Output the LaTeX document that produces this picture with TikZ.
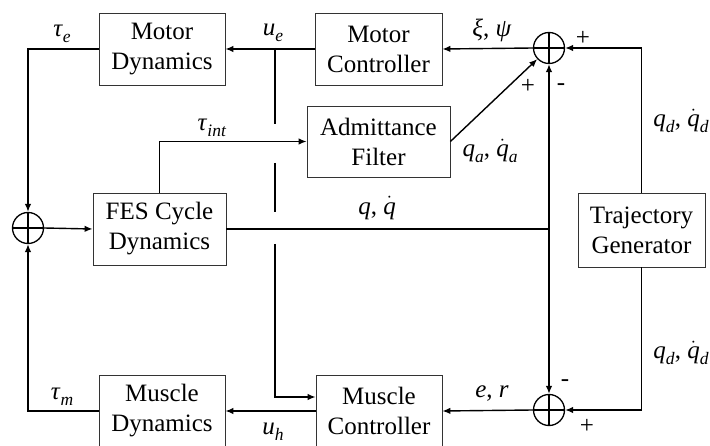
\documentclass[tikz,border=0pt]{standalone}
\usepackage{fontspec}
\setmainfont{Liberation Serif}
\usetikzlibrary{arrows.meta}
\newcommand{\mysym}[2]{\textit{#1}\raisebox{-0.24em}{\fontsize{17.5}{17.5}\selectfont\textit{#2}}}
\newcommand{\mydot}[1]{$\dot{\hbox{\itshape #1}}$}
\begin{document}
\begin{tikzpicture}[x=1pt,y=-1pt,
 blk/.style={draw=black!80,line width=0.8pt,minimum width=126pt,minimum height=72pt,align=center,inner sep=0pt,font=\fontsize{25}{30}\selectfont},
 sumnode/.style={circle,draw,line width=1.3pt,minimum size=31pt,inner sep=0pt,
   path picture={\draw[line width=1.3pt] (path picture bounding box.north)--(path picture bounding box.south) (path picture bounding box.west)--(path picture bounding box.east);}},
 wire/.style={line width=1.4pt},
 arr/.style={wire,-{Latex[length=8pt,width=6.5pt]}},
 lbl/.style={font=\fontsize{25}{30}\selectfont,inner sep=0pt}]
\useasboundingbox (0,0) rectangle (710,446);
% blocks
\node[blk] (MD) at (162,49) {Motor\\Dynamics};
\node[blk,minimum width=127pt] (MC) at (378.5,49) {Motor\\Controller};
\node[blk,minimum width=143pt,minimum height=71pt] (AF) at (378.5,141.5) {Admittance\\Filter};
\node[blk,minimum width=133pt] (FES) at (159.5,229) {FES Cycle\\Dynamics};
\node[blk] (MuD) at (162,411) {Muscle\\Dynamics};
\node[blk] (MuC) at (379,411) {Muscle\\Controller};
\node[blk,minimum width=127pt,minimum height=74pt] (TG) at (641.5,230) {Trajectory\\Generator};
% summing junctions
\node[sumnode] (S1) at (549,48) {};
\node[sumnode] (S2) at (28,228) {};
\node[sumnode] (S3) at (549,410) {};
% connectors
\draw[arr] (S1.west) -- (MC.east);
\draw[arr] (MC.west) -- (MD.east);
\draw[arr] (MD.west) -| (S2.north);
\draw[arr] (MuD.west) -| (S2.south);
\draw[arr] (S2.east) -- (FES.west);
\draw[arr] (FES.north) |- (AF.west);
\draw[arr] (AF.east) -- (S1);
\draw[arr] (TG.north) |- (S1.east);
\draw[arr] (TG.south) |- (S3.east);
\draw[arr] (S3.west) -- (MuC.east);
\draw[arr] (MuC.west) -- (MuD.east);
\coordinate (qj) at (S1 |- FES.east);
\draw[wire] (FES.east) -- (qj);
\draw[arr] (qj) -- (S1.south);
\draw[arr] (qj) -- (S3.north);
% u_e branch with crossing gaps
\coordinate (ub) at (275,48);
\coordinate (u1) at (275,124);
\coordinate (u2) at (275,163);
\coordinate (u3) at (275,212);
\coordinate (u4) at (275,244);
\coordinate (u5) at (275,397);
\draw[wire] (ub) -- (u1);
\draw[wire] (u2) -- (u3);
\draw[arr] (u4) -- (u5) -- (u5 -| MuC.west);
% labels
\node[lbl] (te) at (62,34) {\mysym{τ}{e}};
\node[lbl] (ue) at (273,33) {\mysym{u}{e}};
\node[lbl] (ti) at (212,128) {\mysym{τ}{int}};
\node[lbl] (xp) at (492,30) {\textit{ξ}, \textit{ψ}};
\node[lbl] (p1) at (583,38) {+};
\node[lbl] (p2) at (528,86) {+};
\node[lbl] (m1) at (561,87) {-};
\node[lbl] (qa) at (490,151) {\mysym{q}{a}, \mysym{\mydot{q}}{a}};
\node[lbl] (qq) at (377,208) {\textit{q}, \mydot{q}};
\node[lbl] (qd1) at (681,121) {\mysym{q}{d}, \mysym{\mydot{q}}{d}};
\node[lbl] (qd2) at (681,353) {\mysym{q}{d}, \mysym{\mydot{q}}{d}};
\node[lbl] (er) at (492,394) {\textit{e}, \textit{r}};
\node[lbl] (m2) at (565,383) {-};
\node[lbl] (p3) at (587,426) {+};
\node[lbl] (tm) at (62,397) {\mysym{τ}{m}};
\node[lbl] (uh) at (273,432) {\mysym{u}{h}};
\end{tikzpicture}
\end{document}
